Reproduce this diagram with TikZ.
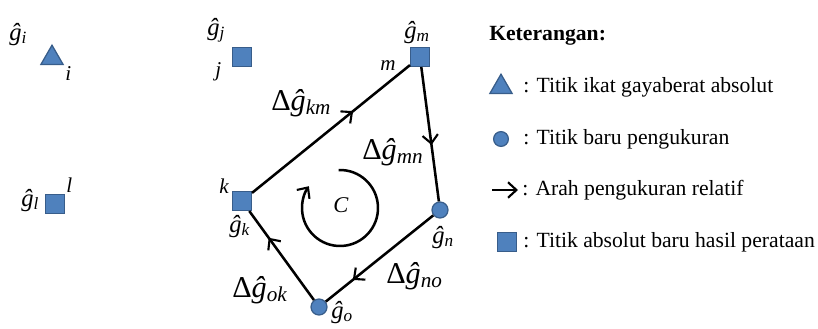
\documentclass[tikz,border=0pt]{standalone}
\usepackage{fontspec}
\setmainfont{Liberation Serif}
\usepackage{xcolor}
\usepackage{tikz}
\usetikzlibrary{arrows.meta,decorations.markings,shapes.geometric}
\definecolor{ptfill}{RGB}{79,129,189}
\definecolor{ptline}{RGB}{56,93,138}
\definecolor{figline}{RGB}{0,0,0}
\newcommand{\gh}[1]{\textit{ĝ}\textsubscript{\textit{#1}}}
\newcommand{\dg}[1]{Δ\textit{ĝ}\textsubscript{\textit{#1}}}
\tikzset{
  sqp/.style  ={draw=ptline, fill=ptfill, line width=0.9pt, minimum size=0.47cm, inner sep=0pt},
  trp/.style  ={draw=ptline, fill=ptfill, line width=0.9pt, regular polygon, regular polygon sides=3, minimum size=0.64cm, inner sep=0pt},
  cip/.style  ={draw=ptline, fill=ptfill, line width=0.9pt, circle, minimum size=#1, inner sep=0pt},
  edge/.style ={draw=figline, line width=1.8pt},
  tipb/.style ={-{Straight Barb[length=6pt,width=11pt,line width=1.5pt]}},
  midarr/.style={postaction={decorate}, decoration={markings,
      mark=at position #1 with {\arrow{Straight Barb[length=6pt,width=11pt,line width=1.5pt]}}}},
  lab/.style  ={font=\fontsize{15}{16}\selectfont, anchor=base west, inner sep=0pt},
  glab/.style ={font=\fontsize{17.5}{18}\selectfont, anchor=base west, inner sep=0pt},
  dlab/.style ={font=\fontsize{21.5}{22}\selectfont, anchor=base west, inner sep=0pt},
  leg/.style  ={font=\fontsize{15.4}{18}\selectfont, anchor=base west, inner sep=0pt},
}
\begin{document}
\begin{tikzpicture}[x=0.025cm,y=-0.025cm]
  \useasboundingbox (0,0) rectangle (818,329);
  % points
  \node[trp] (i) at (52,58) {};
  \node[sqp] (j) at (242,57) {};
  \node[sqp] (l) at (55,204) {};
  \node[sqp] (k) at (242,201) {};
  \node[sqp] (m) at (420,57) {};
  \node[cip=0.4cm] (n) at (440,210) {};
  \node[cip=0.4cm] (o) at (319,307) {};
  % loop
  \draw[edge,midarr=0.64] (k) -- (m);
  \draw[edge,midarr=0.58] (m) -- (n);
  \draw[edge,midarr=0.75] (n) -- (o);
  \draw[edge,midarr=0.7] (o) -- (k);
  \coordinate (cc) at (340,208);
  \draw[edge,tipb] (cc) ++(-92:38) arc[start angle=-92, end angle=215, radius=38];
  \node[font=\fontsize{16}{16}\selectfont\itshape, inner sep=0pt] (cname) at (341,205) {C};
  % point labels
  \node[glab] (gi) at (9,40) {\gh{i}};
  \node[lab] (ni) at (65,80) {\textit{i}};
  \node[glab] (gj) at (207,35) {\gh{j}};
  \node[lab] (nj) at (215,76) {\textit{j}};
  \node[glab] (gl) at (21,206) {\gh{l}};
  \node[lab] (nl) at (66,192) {\textit{l}};
  \node[lab] (nk) at (219,193) {\textit{k}};
  \node[glab] (gk) at (229,232) {\gh{k}};
  \node[lab] (nm) at (380,70) {\textit{m}};
  \node[glab] (gm) at (404,38) {\gh{m}};
  \node[glab] (gn) at (432,243) {\gh{n}};
  \node[glab] (go) at (331,318) {\gh{o}};
  % differences
  \node[dlab] (dkm) at (271,110) {\dg{km}};
  \node[dlab] (dmn) at (362,159) {\dg{mn}};
  \node[dlab] (dno) at (386,283) {\dg{no}};
  \node[dlab] (dok) at (232,297) {\dg{ok}};
  % legend
  \node[leg,font=\fontsize{15.4}{18}\selectfont\bfseries] (ket) at (489,40) {Keterangan:};
  \node[trp] (ltr) at (501,87) {};
  \node[leg] (ttr) at (523,93) {: Titik ikat gayaberat absolut};
  \node[cip=0.37cm] (lci) at (501,139) {};
  \node[leg] (tci) at (523,144) {: Titik baru pengukuran};
  \coordinate (la0) at (492,190);
  \coordinate (la1) at (518,190);
  \draw[edge,tipb] (la0) -- (la1);
  \node[leg] (tar) at (522,195) {: Arah pengukuran relatif};
  \node[sqp] (lsq) at (507,242) {};
  \node[leg] (tsq) at (523,247) {: Titik absolut baru hasil perataan};
\end{tikzpicture}
\end{document}
